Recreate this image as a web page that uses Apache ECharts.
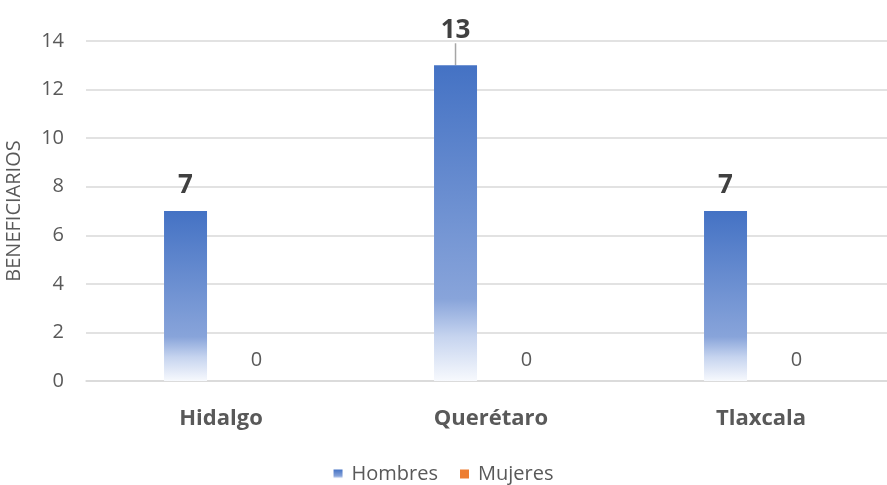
<!DOCTYPE html>
<html>
<head>
<meta charset="utf-8">
<script src="https://cdn.jsdelivr.net/npm/echarts@6/dist/echarts.min.js"></script>
<style>
  html, body { margin: 0; padding: 0; background: #fff; }
  #chart { width: 887px; height: 485px; }
</style>
</head>
<body>
<div id="chart"></div>
<script>
const estados = ['Hidalgo', 'Querétaro', 'Tlaxcala']
const hombres = [7, 13, 7]
const mujeres = [0, 0, 0]

const font = '"Open Sans", sans-serif'
const gris = '#595959'

const chart = echarts.init(document.getElementById('chart'))

const azul = new echarts.graphic.LinearGradient(0, 0, 0, 1, [
  { offset: 0, color: '#4472c4' },
  { offset: 0.74, color: '#88a4da' },
  { offset: 0.86, color: '#c6d4ef' },
  { offset: 1, color: '#f7f9fd' },
])

// the 13 label is moved up in the original, with a leader line
const hombresData = hombres.map((v, i) => ({
  value: v,
  labelLine: { show: i === 1 },
}))

chart.setOption({
  animation: false,
  textStyle: { fontFamily: font },
  grid: { left: 86, top: 41, width: 810, bottom: 104, outerBoundsMode: 'none' },
  legend: {
    top: 459,
    left: 'center',
    itemWidth: 9,
    itemHeight: 9,
    itemGap: 22,
    icon: 'rect',
    textStyle: { color: gris, fontSize: 20, fontFamily: font, padding: [0, 0, 0, 4] },
    data: ['Hombres', 'Mujeres'],
  },
  xAxis: {
    type: 'category',
    data: estados,
    axisLine: { lineStyle: { color: '#d9d9d9', width: 1.5 } },
    axisTick: { show: false },
    axisLabel: { color: gris, fontSize: 22, fontWeight: 'bold', margin: 27, fontFamily: font },
  },
  yAxis: {
    type: 'value',
    min: 0,
    max: 14,
    interval: 2,
    name: 'BENEFICIARIOS',
    nameLocation: 'middle',
    nameGap: 62,
    nameTextStyle: { color: gris, fontSize: 20, fontFamily: font },
    axisLabel: { color: gris, fontSize: 20, margin: 22, fontFamily: font },
    splitLine: { lineStyle: { color: '#d9d9d9', width: 1.5 } },
  },
  series: [
    {
      name: 'Hombres',
      type: 'bar',
      data: hombresData,
      barWidth: 43,
      barGap: '65%',
      itemStyle: { color: azul },
      label: {
        show: true,
        position: 'top',
        distance: 12,
        color: '#404040',
        fontSize: 26,
        fontWeight: 'bold',
        fontFamily: font,
      },
      labelLayout: (p) => (p.dataIndex === 1 ? { dy: -10 } : {}),
      labelLine: { lineStyle: { color: '#a6a6a6', width: 1.5 } },
    },
    {
      name: 'Mujeres',
      type: 'bar',
      data: mujeres,
      barWidth: 43,
      itemStyle: { color: '#ed7d31' },
      label: {
        show: true,
        position: 'top',
        distance: 11,
        color: gris,
        fontSize: 20,
        fontFamily: font,
      },
    },
  ],
})
</script>
</body>
</html>
